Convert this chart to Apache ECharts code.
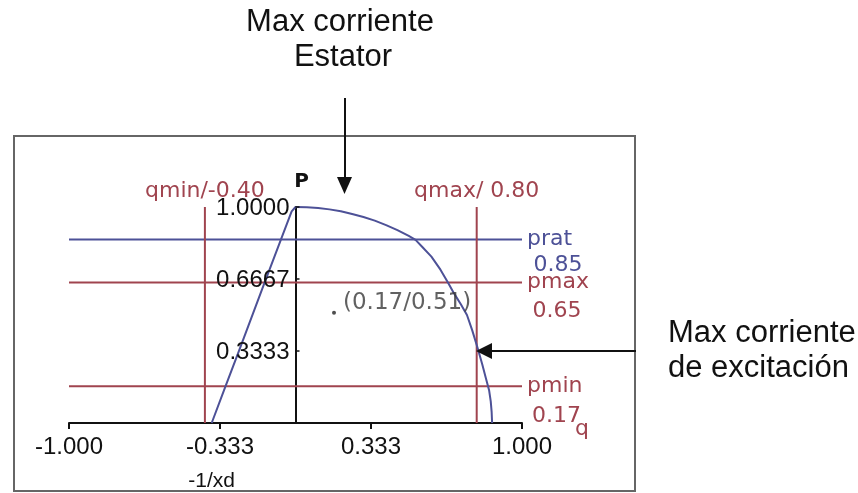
<!DOCTYPE html>
<html>
<head>
<meta charset="utf-8">
<script src="https://cdn.jsdelivr.net/npm/echarts@6/dist/echarts.min.js"></script>
<style>html,body{margin:0;padding:0;background:#fff}#c{width:858px;height:493px}</style>
</head>
<body>
<div id="c"></div>
<script>
// ---- data ----
const xTickValues = [-1, -0.3333, 0.3333, 1];
const yTickValues = [0.3333, 0.6667, 1.0];
const pRat = 0.85, pMax = 0.65, pMin = 0.17;
const qMin = -0.40, qMax = 0.80;
const invXd = -0.37;
const stabilityLine = [[-0.37,0],[-0.31,0.167],[-0.25,0.333],[-0.139,0.643],[-0.064,0.85],[-0.017,0.98],[0,1.0]];
const capabilityArc = [[0,1.0],[0.05,0.999],[0.1,0.995],[0.15,0.989],[0.2,0.98],[0.25,0.968],[0.3,0.954],[0.35,0.937],[0.4,0.916],[0.45,0.893],[0.5,0.866],[0.53,0.848],[0.56,0.815],[0.6,0.77],[0.64,0.71],[0.673,0.65],[0.7,0.6],[0.73,0.55],[0.757,0.5],[0.78,0.43],[0.806,0.34],[0.825,0.27],[0.84,0.21],[0.855,0.15],[0.862,0.1],[0.866,0.05],[0.868,0]];
const opPoint = [0.17, 0.51];
const opLabel = '(0.17/0.51)';

const BLUE = '#4d5197', RED = '#a0444f', BLACK = '#111';
const chart = echarts.init(document.getElementById('c'), null, {renderer:'canvas'});
const hline = (p, c) => ({type:'line', data:[[-1,p],[1,p]], symbol:'none', lineStyle:{color:c,width:2}, z:2, silent:true});
const vline = (q, c) => ({type:'line', data:[[q,0],[q,1]], symbol:'none', lineStyle:{color:c,width:2}, z:2, silent:true});

chart.setOption({
  animation:false,
  grid:{left:69, right:336, top:207, bottom:70},
  xAxis:{type:'value', min:-1, max:1,
    axisLine:{show:true, lineStyle:{color:BLACK, width:2}},
    axisTick:{show:true, customValues:xTickValues, length:6, lineStyle:{color:BLACK,width:2}},
    axisLabel:{customValues:xTickValues, margin:12, color:BLACK, fontFamily:'Liberation Sans', fontSize:24,
      formatter:v=>v.toFixed(3)},
    splitLine:{show:false}},
  yAxis:{type:'value', min:0, max:1,
    axisLine:{show:true, onZero:true, lineStyle:{color:BLACK, width:2}},
    axisTick:{show:false},
    axisLabel:{show:false},
    splitLine:{show:false}},
  series:[
    hline(pRat, BLUE), hline(pMax, RED), hline(pMin, RED),
    vline(qMin, RED), vline(qMax, RED),
    {type:'line', data:stabilityLine, symbol:'none', lineStyle:{color:BLUE,width:2}, z:3},
    {type:'line', data:capabilityArc, symbol:'none', lineStyle:{color:BLUE,width:2}, z:3},
    {type:'scatter', data:[opPoint], symbolSize:4, itemStyle:{color:'#222'}, z:4,
      label:{show:true, position:'right', offset:[2,-10], formatter:opLabel, color:'#3a3a3a', fontFamily:'DejaVu Sans', fontSize:23}}
  ]
});

const px = (q,p) => chart.convertToPixel({gridIndex:0}, [q,p]);
const txt = (x,y,s,opt) => Object.assign({type:'text', x:x, y:y, style:Object.assign({text:s, fontFamily:'DejaVu Sans', fontSize:22, fill:RED, textVerticalAlign:'middle'}, opt||{})}, {z:10});
const g = [];
// frame
g.push({type:'rect', shape:{x:14,y:136,width:621,height:355}, style:{fill:'none', stroke:'#666', lineWidth:2}, z:0});
// y-axis tick labels placed at the P axis (q = 0)
yTickValues.forEach(v => {
  const p = px(0, v);
  g.push(txt(p[0]-6, p[1]+1, v.toFixed(4), {fill:BLACK, textAlign:'right', fontFamily:'Liberation Sans', fontSize:24}));
  g.push({type:'line', shape:{x1:p[0], y1:p[1], x2:p[0]+4, y2:p[1]}, style:{stroke:BLACK, lineWidth:1.5}, z:10});
});
// labels tied to data
const a = px(qMin,1), b = px(qMax,1);
g.push(txt(a[0], a[1]-16, 'qmin/-0.40', {textAlign:'center'}));
g.push(txt(b[0], b[1]-16, 'qmax/ 0.80', {textAlign:'center'}));
const r1 = px(1,pRat), r2 = px(1,pMax), r3 = px(1,pMin);
g.push(txt(r1[0]+5, r1[1], 'prat', {fill:BLUE}));
g.push(txt(r1[0]+36, r1[1]+26, '0.85', {fill:BLUE, textAlign:'center'}));
g.push(txt(r2[0]+5, r2[1], 'pmax'));
g.push(txt(r2[0]+35, r2[1]+29, '0.65', {textAlign:'center'}));
g.push(txt(r3[0]+5, r3[1], 'pmin'));
g.push(txt(r3[0]+10, r3[1]+30, '0.17'));
const o = px(1,0);
g.push(txt(o[0]+53, o[1]+6, 'q'));
const pTop = px(0,1);
g.push(txt(pTop[0]+6, pTop[1]-25, 'P', {fill:BLACK, textAlign:'center', fontWeight:'bold', fontSize:20}));
const xd = px(invXd,0);
g.push(txt(xd[0], xd[1]+58, '-1/xd', {fill:BLACK, textAlign:'center', fontSize:21, fontFamily:'Liberation Sans'}));
// annotations
const ann = {fill:BLACK, fontFamily:'Liberation Sans', fontSize:31};
g.push(txt(340, 22, 'Max corriente', Object.assign({textAlign:'center'}, ann)));
g.push(txt(343, 57, 'Estator', Object.assign({textAlign:'center'}, ann)));
g.push(txt(668, 333, 'Max corriente', ann));
g.push(txt(668, 368, 'de excitación', ann));
// arrows
g.push({type:'line', shape:{x1:345,y1:98,x2:345,y2:182}, style:{stroke:BLACK, lineWidth:2}, z:10});
g.push({type:'polygon', shape:{points:[[337,177],[352,177],[344.5,194]]}, style:{fill:BLACK}, z:10});
g.push({type:'line', shape:{x1:636,y1:351,x2:488,y2:351}, style:{stroke:BLACK, lineWidth:2}, z:10});
g.push({type:'polygon', shape:{points:[[476,351],[492,343],[492,359]]}, style:{fill:BLACK}, z:10});
chart.setOption({graphic:g});
</script>
</body>
</html>
